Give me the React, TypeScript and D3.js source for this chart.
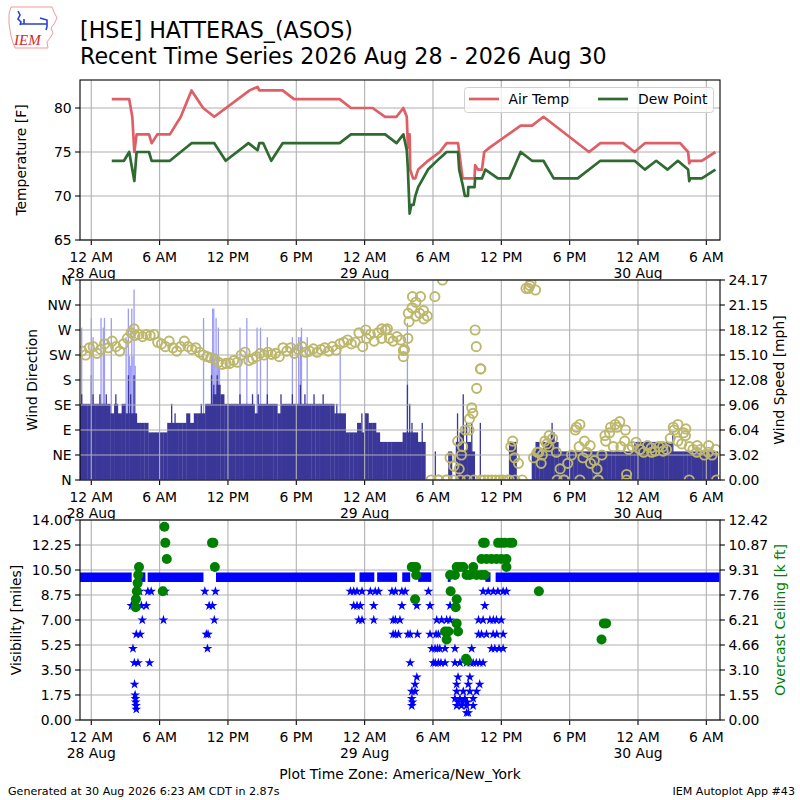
import React from 'react';
import * as d3 from 'd3';

// hours since 12 AM 28 Aug (America/New_York)
const xDomain = [-0.99, 55.2];
const timeTicks = [0, 6, 12, 18, 24, 30, 36, 42, 48, 54];
const timeLabels = ['12 AM', '6 AM', '12 PM', '6 PM', '12 AM', '6 AM', '12 PM', '6 PM', '12 AM', '6 AM'];
const dayLabels = ['28 Aug', '', '', '', '29 Aug', '', '', '', '30 Aug', ''];

const tempTicks = [65, 70, 75, 80];
const dirTicks = [0, 45, 90, 135, 180, 225, 270, 315, 360];
const dirLabels = ['N', 'NE', 'E', 'SE', 'S', 'SW', 'W', 'NW', 'N'];
const speedTickLabels = ['0.00', '3.02', '6.04', '9.06', '12.08', '15.10', '18.12', '21.15', '24.17'];
const visTicks = [0, 1.75, 3.5, 5.25, 7, 8.75, 10.5, 12.25, 14];
const ceilTickLabels = ['0.00', '1.55', '3.10', '4.66', '6.21', '7.76', '9.31', '10.87', '12.42'];

const airTemp: [number, number][] = [
  [1.8, 81], [3.33, 81], [3.6, 79], [3.78, 75], [3.98, 77], [5.07, 77], [5.3, 76], [5.8, 77], [6.9, 77],
  [7.86, 79], [8.8, 82], [9.82, 80], [10.8, 79], [13.9, 82], [14.6, 82.4], [14.75, 82], [16.8, 82], [17.8, 81],
  [21.8, 81], [22.8, 80], [24.7, 80], [25.8, 79], [26.8, 79], [27.4, 80], [27.7, 79], [27.8, 75.5], [27.88, 77],
  [27.95, 77], [28.0, 73], [28.25, 72], [28.45, 72], [28.7, 73], [29.56, 74], [30.6, 75], [31.2, 76], [32.2, 76],
  [32.3, 75], [32.6, 72], [33.65, 72], [33.7, 73.5], [33.95, 73], [34.3, 73], [34.5, 75], [34.97, 75.5],
  [37.7, 78], [38.7, 78], [39.7, 79], [43.7, 75], [44.7, 76], [46.7, 76], [47.7, 75], [48.6, 76], [51.7, 76],
  [52.4, 75], [52.5, 73.7], [52.6, 74], [53.6, 74], [54.8, 75],
];
const dewPoint: [number, number][] = [
  [1.8, 74], [2.87, 74], [3.33, 75], [3.78, 71.7], [3.98, 75], [5.07, 75], [5.3, 74], [6.9, 74], [8.8, 76],
  [10.8, 76], [11.8, 74], [13.8, 76], [14.6, 75.2], [14.75, 76], [15.1, 76], [15.8, 74], [16.8, 76], [21.8, 76],
  [22.8, 77], [25.8, 77], [26.8, 76], [27.4, 77], [27.7, 75.2], [27.8, 73], [27.95, 68], [28.1, 69], [28.3, 69],
  [28.45, 70], [28.7, 71], [29.56, 73], [30.6, 74.3], [31.2, 75], [32.2, 75], [32.3, 73], [32.6, 71.3], [32.8, 70],
  [33.07, 70], [33.1, 71], [33.65, 71], [33.7, 72], [34.3, 72], [34.6, 73], [35.7, 72], [36.7, 72], [37.7, 75],
  [38.7, 74], [39.7, 74], [40.6, 72], [42.7, 72], [44.7, 74], [47.7, 74], [48.6, 73], [49.6, 74], [50.6, 73],
  [51.5, 74], [52.4, 73], [52.5, 71.7], [52.6, 72], [53.6, 72], [54.8, 73],
];

// wind, 20 minute samples starting 11 PM 27 Aug (knots)
const windStart = -1;
const windStep = 1 / 3;
const windKt = [
  8, 8, 8, 8, 8, 8, 8, 8, 7, 8, 7, 8, 7, 7, 7, 6, 6, 6, 5, 5, 5, 5, 5, 6, 6, 6, 6, 6, 7, 6, 7, 7, 7, 8, 8, 9,
  10, 9, 8, 8, 8, 8, 8, 8, 8, 8, 7, 8, 8, 8, 8, 8, 7, 8, 8, 8, 8, 8, 8, 8, 8, 8, 8, 8, 8, 8, 8, 7, 7, 7, 5, 5,
  5, 6, 5, 7, 6, 6, 5, 4, 4, 4, 4, 4, 4, 5, 5, 5, 5, 4, 4, 0, 0, 0, 0, 0, 0, 3, 0, 4, 5, 3, 4, 3, 0, 0, 0, 0,
  0, 0, 0, 0, 0, 4, 4, 0, 0, 0, 0, 3, 4, 3, 4, 4, 5, 4, 3, 3, 3, 3, 3, 3, 3, 3, 3, 3, 3, 3, 3, 3, 3, 3, 3, 3,
  3, 3, 4, 4, 4, 4, 4, 4, 4, 4, 4, 4, 3, 3, 3, 3, 3, 3, 3, 3, 3, 3, 3, 3,
];
const windPeaks: [number, number][] = [
  [-0.9, 9], [-0.05, 11], [0.1, 9], [0.7, 9], [1.26, 9], [2.1, 9], [3.2, 11], [3.4, 9], [3.7, 11], [7.0, 8],
  [7.3, 7], [9.6, 8], [10.5, 11], [10.7, 10], [11.0, 11], [13.0, 9], [14.1, 9], [14.6, 9], [15.4, 9], [16.6, 9],
  [17.6, 9], [18.3, 10], [18.7, 9], [19.5, 9], [20.3, 9], [21.5, 8], [23.7, 7], [24.0, 7], [27.7, 10], [27.9, 8],
  [28.1, 6], [29.0, 6], [30.15, 3], [32.1, 7], [32.6, 9], [32.9, 6], [33.35, 6], [34.1, 6], [40.4, 6], [51.0, 5],
];
const windGusts: [number, number][] = [
  [-0.9, 16], [-0.05, 17], [0.1, 15], [0.8, 17], [1.0, 16], [1.1, 17], [1.7, 17], [3.0, 15], [3.2, 18], [3.3, 13],
  [3.4, 12], [3.5, 18], [3.6, 13], [3.7, 20], [3.8, 12], [9.8, 17], [10.5, 13], [10.6, 18], [10.7, 18], [10.8, 12],
  [10.9, 17], [11.0, 13], [11.1, 16], [11.2, 12], [13.0, 16], [13.6, 17], [14.5, 16], [14.8, 16], [15.4, 15],
  [17.6, 15], [18.15, 15], [18.3, 15], [18.4, 16], [18.9, 15], [21.8, 14], [27.7, 16.5],
];
const windDir = [
  232, 225, 238, 240, 228, 235, 245, 238, 250, 240, 232, 245, 255, 265, 260, 262, 258, 262, 260, 262, 248,
  245, 240, 250, 238, 232, 240, 250, 240, 235, 238, 230, 225, 222, 220, 218, 212, 208, 210, 210, 215, 212,
  225, 230, 215, 218, 222, 228, 225, 230, 226, 228, 222, 238, 232, 238, 228, 235, 240, 230, 232, 236, 230,
  235, 238, 232, 240, 234, 245, 248, 252, 245, 248, 265, 240, 255, 262, 250, 265, 255, 270, 255, 250, 258,
  252, 235, 300, 310, 320, 300, 305, 295, 0, 330, 0, 360, 0, 40, 25, 70, 45, 90, 90, 120, 165, 200, 0, 0,
  0, 0, 0, 0, 0, 60, 40, 30, 0, 345, 350, 40, 50, 30, 70, 60, 75, 50, 20, 0, 30, 45, 90, 60, 40, 50, 30,
  35, 0, 45, 70, 85, 60, 95, 60, 70, 55, 60, 68, 55, 50, 62, 58, 52, 60, 60, 55, 75, 90, 70, 65, 80, 60, 55,
  50, 55, 45, 50, 45, 55,
];
const windDirExtra: [number, number][] = [
  [3.76, 272], [24.1, 270], [25.5, 272], [26.0, 272], [27.4, 222], [27.4, 233], [27.8, 255], [27.9, 285],
  [28.2, 330], [28.5, 295], [28.9, 330], [29.2, 290], [33.7, 270], [33.8, 240], [34.2, 200], [33.4, 130],
  [33.2, 110], [32.6, 60], [32.3, 20], [37.0, 70], [38.4, 345], [38.6, 355], [39.0, 342], [30.5, 0], [31.2, 0],
  [31.8, 0], [32.4, 0], [33.0, 0], [33.6, 0], [34.2, 0], [36.7, 0], [37.2, 0],
  [39.3, 50], [39.6, 45], [40.0, 65], [40.2, 80], [40.9, 0], [41.5, 0], [42.6, 95], [42.9, 100], [42.9, 0],
  [43.3, 70], [43.8, 62], [44.4, 20], [44.5, 0], [45.1, 80], [45.6, 95], [46.0, 100], [46.4, 105], [46.9, 90],
  [47.0, 10], [47.0, 0], [48.2, 55], [49.2, 50], [50.2, 52], [51.1, 95], [51.5, 100], [52.0, 85], [52.2, 92],
  [52.5, 0], [53.2, 62], [54.2, 62], [54.9, 0],
];

// visibility: spans at 10 miles, then lower reports
const visTenRuns: [number, number][] = [
  [-0.99, 3.55], [4.35, 4.75], [4.95, 9.85], [10.95, 23.15], [23.55, 24.85], [25.1, 26.85], [27.3, 28.0],
  [28.7, 29.85], [31.3, 31.55], [34.6, 35.05], [35.5, 55.15],
];
const visLow: [number, number][] = [
  [3.52, 8], [3.66, 5], [3.7, 8], [3.78, 4], [3.8, 2.5], [3.85, 1.75], [3.88, 1.5], [3.9, 1.25], [3.93, 1],
  [3.95, 0.75], [3.95, 6], [4.0, 8], [4.1, 4], [4.24, 9], [4.3, 6], [4.4, 8], [4.48, 7], [4.83, 8], [4.97, 9],
  [5.12, 4], [5.26, 9], [6.28, 9], [6.34, 7], [6.48, 9], [9.97, 9], [10.1, 6], [10.2, 5], [10.25, 6], [10.35, 8],
  [10.64, 8], [10.8, 7], [10.9, 9],
  [22.75, 9], [23.04, 9], [23.33, 9], [23.77, 9], [24.5, 9], [24.93, 9], [25.22, 9], [26.4, 9], [26.7, 9],
  [27.27, 9], [27.56, 9], [29.6, 9], [34.4, 9], [34.85, 9], [35.3, 9], [35.7, 9], [36.16, 9], [36.45, 9],
  [23.04, 8], [23.33, 8], [23.62, 8], [24.8, 8], [27.27, 8], [28.58, 8], [29.74, 8], [31.5, 8], [34.55, 8],
  [23.48, 7], [23.77, 7], [24.8, 7], [26.5, 7], [26.7, 7], [27.1, 7], [30.33, 7], [30.76, 7], [31.2, 7], [31.5, 7],
  [34.0, 7], [34.4, 7], [35.0, 7], [35.3, 7], [35.57, 7], [36.0, 7],
  [26.5, 6], [26.7, 6], [26.97, 6], [27.8, 6], [28.0, 6], [28.64, 6], [29.74, 6], [30.27, 6], [30.47, 6], [34.0, 6],
  [34.26, 6], [34.7, 6], [35.28, 6], [35.6, 6], [36.16, 6],
  [29.9, 5], [30.18, 5], [30.4, 5], [30.6, 5], [31.06, 5], [31.93, 5], [33.4, 5], [35.14, 5], [35.43, 5], [35.8, 5], [36.16, 5],
  [28.0, 4], [30.03, 4], [30.2, 4], [30.47, 4], [30.7, 4], [31.06, 4], [31.93, 4], [32.37, 4], [32.95, 4], [33.3, 4],
  [33.53, 4], [33.8, 4], [34.1, 4], [34.4, 4],
  [28.58, 3], [32.2, 3], [33.24, 3], [28.43, 2.5], [32.08, 2.5], [33.1, 2.5], [34.1, 2.5],
  [28.14, 2], [28.43, 2], [32.08, 2], [32.66, 2], [33.24, 2], [33.83, 2],
  [28.14, 1.5], [31.93, 1.5], [32.37, 1.5], [32.8, 1.5], [33.53, 1.5],
  [28.2, 1.25], [32.2, 1.25], [32.6, 1.25], [33.0, 1.25],
  [28.14, 1], [32.08, 1], [32.5, 1], [32.95, 1], [33.53, 1], [32.95, 0.5], [33.1, 0.5],
];
const ceilingKft: [number, number][] = [
  [3.9, 7.0], [3.92, 7.5], [4.0, 8.0], [4.07, 8.5], [4.12, 9.0], [4.19, 9.5], [6.28, 8.0], [6.42, 12.0],
  [6.5, 11.0], [6.63, 10.0], [10.6, 11.0], [10.72, 11.0], [10.85, 9.5], [28.14, 9.5], [28.3, 9.5], [28.52, 9.5],
  [28.52, 9.0], [28.43, 7.5], [31.06, 5.5], [31.2, 5.0], [31.35, 5.5], [31.55, 8.0], [32.0, 7.0], [32.08, 7.5],
  [32.08, 6.0], [32.2, 5.5], [32.9, 3.8], [33.0, 3.7], [31.5, 9.0], [31.93, 9.0], [32.08, 9.5], [32.37, 9.5],
  [32.66, 9.5], [32.95, 9.0], [33.24, 9.0], [33.53, 9.5], [33.83, 9.0], [34.26, 9.0], [34.55, 9.0], [34.4, 11.0],
  [34.55, 11.0], [35.72, 11.0], [36.0, 11.0], [36.3, 11.0], [36.74, 11.0], [36.97, 11.0], [34.26, 10.0],
  [34.7, 10.0], [35.14, 10.0], [35.57, 10.0], [36.0, 10.0], [36.45, 10.0], [36.45, 9.5], [39.3, 8.0],
  [44.8, 5.0], [45.0, 6.0], [45.2, 6.0],
];

const KT2MPH = 1.15078;
const L = 80;
const R = 720;
const FS = 13.9;
const FONT = 'DejaVu Sans, sans-serif';
const GRID = '#b0b0b0';
const airColor = '#df5f66';
const dewColor = '#2f6a31';
const khaki = '#bdb76b';

function TimeAxis({ x, top, bottom }) {
  return (
    <g>
      {timeTicks.map((t, i) => (
        <g key={t}>
          <line x1={x(t)} x2={x(t)} y1={top} y2={bottom} stroke={GRID} strokeWidth={1.1} />
          <line x1={x(t)} x2={x(t)} y1={bottom} y2={bottom + 4.9} stroke="#000" strokeWidth={1.1} />
          <text x={x(t)} y={bottom + 21.5} fontSize={FS} textAnchor="middle">{timeLabels[i]}</text>
          {dayLabels[i] && (
            <text x={x(t)} y={bottom + 38} fontSize={FS} textAnchor="middle">{dayLabels[i]}</text>
          )}
        </g>
      ))}
    </g>
  );
}

function HGrid({ y, values, labels, side = 'left' }) {
  return (
    <g>
      {values.map((v, i) => (
        <g key={i}>
          {side === 'left' && <line x1={L} x2={R} y1={y(v)} y2={y(v)} stroke={GRID} strokeWidth={1.1} />}
          {side === 'left' ? (
            <g>
              <line x1={L - 4.9} x2={L} y1={y(v)} y2={y(v)} stroke="#000" strokeWidth={1.1} />
              <text x={L - 8.4} y={y(v) + 5} fontSize={FS} textAnchor="end">{labels[i]}</text>
            </g>
          ) : (
            <g>
              <line x1={R} x2={R + 4.9} y1={y(v)} y2={y(v)} stroke="#000" strokeWidth={1.1} />
              <text x={R + 8.4} y={y(v) + 5} fontSize={FS} textAnchor="start">{labels[i]}</text>
            </g>
          )}
        </g>
      ))}
    </g>
  );
}

export default function App() {
  const x = d3.scaleLinear().domain(xDomain).range([L, R]);
  const yT = d3.scaleLinear().domain([65, 83.18]).range([240, 80]);
  const yDir = d3.scaleLinear().domain([0, 360]).range([480, 280]);
  const ySpd = d3.scaleLinear().domain([0, 21 * KT2MPH]).range([480, 280]);
  const yVis = d3.scaleLinear().domain([0, 14]).range([720, 520]);
  const yCeil = d3.scaleLinear().domain([0, 12.42]).range([720, 520]);

  const tLine = d3.line<[number, number]>().x((d) => x(d[0])).y((d) => yT(d[1]));
  const visLine = d3.line<[number, number]>().x((d) => x(d[0])).y((d) => yVis(d[1]));
  const star = d3.symbol().type(d3.symbolStar).size(30)();
  const binW = x(windStep) - x(0);
  const spdTicks = d3.range(9).map((i) => (i * 21 * KT2MPH) / 8);
  const ceilTicks = d3.range(9).map((i) => (i * 12.42) / 8);
  const windTimes = windKt.map((_, i) => windStart + i * windStep);

  return (
    <svg width={800} height={800} style={{ position: 'absolute', left: 0, top: 0 }} fontFamily={FONT}>
      <defs>
        <clipPath id="c1"><rect x={L} y={80} width={R - L} height={160} /></clipPath>
        <clipPath id="c2"><rect x={L} y={280} width={R - L} height={200} /></clipPath>
        <clipPath id="c3"><rect x={L} y={520} width={R - L} height={200} /></clipPath>
      </defs>
      <rect width={800} height={800} fill="#fff" />

      {/* logo */}
      <g>
        <path d="M11,7 L52,7 L54,12 L57,18 L54,24 L51,28 L53,33 L50,38 L47,42 L48,48 L15,48 L13,43 L11,36 L9,24 L9,14 Z"
          fill="none" stroke="#f29a9a" strokeWidth={1} />
        <path d="M18,11 L20,15 L18,19 L21,22 L20,25 M20,24 L47,24 M40,18 L47,20 L47,27 M24,19 L24,24 M47,27 L46,30"
          fill="none" stroke="#2b3fd1" strokeWidth={1.6} />
        <text x={14} y={45} fontSize={15} fontStyle="italic" fontFamily="Liberation Serif, serif" fill="#d42a2a">IEM</text>
      </g>

      <text x={80} y={37.5} fontSize={22.2}>[HSE] HATTERAS_(ASOS)</text>
      <text x={80} y={64} fontSize={22.2}>Recent Time Series 2026 Aug 28 - 2026 Aug 30</text>

      {/* panel 1: temperature */}
      <rect x={L} y={80} width={R - L} height={160} fill="#fff" />
      <TimeAxis x={x} top={80} bottom={240} />
      <HGrid y={yT} values={tempTicks} labels={tempTicks.map(String)} />
      <g clipPath="url(#c1)">
        <path d={tLine(airTemp)} fill="none" stroke={airColor} strokeWidth={2.7} strokeLinejoin="round" />
        <path d={tLine(dewPoint)} fill="none" stroke={dewColor} strokeWidth={2.7} strokeLinejoin="round" />
      </g>
      <rect x={L} y={80} width={R - L} height={160} fill="none" stroke="#000" strokeWidth={1.1} />
      <g>
        <rect x={464.5} y={87.5} width={249} height={25} rx={3} fill="#fff" fillOpacity={0.8} stroke="#d0d0d0" />
        <line x1={469} x2={499} y1={99} y2={99} stroke={airColor} strokeWidth={2.7} />
        <text x={508.5} y={104} fontSize={FS}>Air Temp</text>
        <line x1={598} x2={628} y1={99} y2={99} stroke={dewColor} strokeWidth={2.7} />
        <text x={638} y={104} fontSize={FS}>Dew Point</text>
      </g>
      <text transform="translate(26,160) rotate(-90)" fontSize={FS} textAnchor="middle">Temperature [F]</text>

      {/* panel 2: wind */}
      <rect x={L} y={280} width={R - L} height={200} fill="#fff" />
      <g clipPath="url(#c2)">
        {windGusts.map(([h, g], i) => (
          <rect key={'g' + i} x={x(h)} y={ySpd(g * KT2MPH)} width={1.3} height={ySpd(0) - ySpd(g * KT2MPH)} fill="#9c9cf7" />
        ))}
        {windKt.map((k, i) =>
          k > 0 ? (
            <rect key={'w' + i} x={x(windTimes[i])} y={ySpd(k * KT2MPH)} width={binW + 0.3}
              height={ySpd(0) - ySpd(k * KT2MPH)} fill="#3a3799" />
          ) : null,
        )}
        {windPeaks.map(([h, k], i) => (
          <rect key={'p' + i} x={x(h)} y={ySpd(k * KT2MPH)} width={1.3} height={ySpd(0) - ySpd(k * KT2MPH)} fill="#3a3799" />
        ))}
      </g>
      <TimeAxis x={x} top={280} bottom={480} />
      <HGrid y={yDir} values={dirTicks} labels={dirLabels} />
      <HGrid y={ySpd} values={spdTicks} labels={speedTickLabels} side="right" />
      <g clipPath="url(#c2)" fill="none" stroke={khaki} strokeWidth={1.9}>
        {windDir.map((d, i) => (
          <circle key={'d' + i} cx={x(windTimes[i] + windStep / 2)} cy={yDir(d)} r={4.6} />
        ))}
        {windDirExtra.map(([h, d], i) => (
          <circle key={'e' + i} cx={x(h)} cy={yDir(d)} r={4.6} />
        ))}
      </g>
      <rect x={L} y={280} width={R - L} height={200} fill="none" stroke="#000" strokeWidth={1.1} />
      <text transform="translate(37,380) rotate(-90)" fontSize={FS} textAnchor="middle">Wind Direction</text>
      <text transform="translate(784,380) rotate(-90)" fontSize={FS} textAnchor="middle">Wind Speed [mph]</text>

      {/* panel 3: visibility & ceiling */}
      <rect x={L} y={520} width={R - L} height={200} fill="#fff" />
      <TimeAxis x={x} top={520} bottom={720} />
      <HGrid y={yVis} values={visTicks} labels={visTicks.map((v) => v.toFixed(2))} />
      <HGrid y={yCeil} values={ceilTicks} labels={ceilTickLabels} side="right" />
      <g clipPath="url(#c3)">
        {visTenRuns.map(([a, b], i) => (
          <path key={'r' + i} d={visLine([[a, 10], [b, 10]])} stroke="#0000ff" strokeWidth={9.5} fill="none" />
        ))}
        {visLow.map(([h, v], i) => (
          <path key={'s' + i} d={star} transform={`translate(${x(h)},${yVis(v)})`} fill="#0000ff" />
        ))}
        {ceilingKft.map(([h, c], i) => (
          <circle key={'c' + i} cx={x(h)} cy={yCeil(c)} r={5} fill="#008000" />
        ))}
      </g>
      <rect x={L} y={520} width={R - L} height={200} fill="none" stroke="#000" strokeWidth={1.1} />
      <text transform="translate(21,620) rotate(-90)" fontSize={FS} textAnchor="middle">Visibility [miles]</text>
      <text transform="translate(785,620) rotate(-90)" fontSize={FS} textAnchor="middle" fill="#008000">Overcast Ceiling [k ft]</text>

      <text x={400} y={779} fontSize={FS} textAnchor="middle">Plot Time Zone: America/New_York</text>
      <text x={8} y={795} fontSize={11.1}>Generated at 30 Aug 2026 6:23 AM CDT in 2.87s</text>
      <text x={795} y={795} fontSize={11.1} textAnchor="end">IEM Autoplot App #43</text>
    </svg>
  );
}
